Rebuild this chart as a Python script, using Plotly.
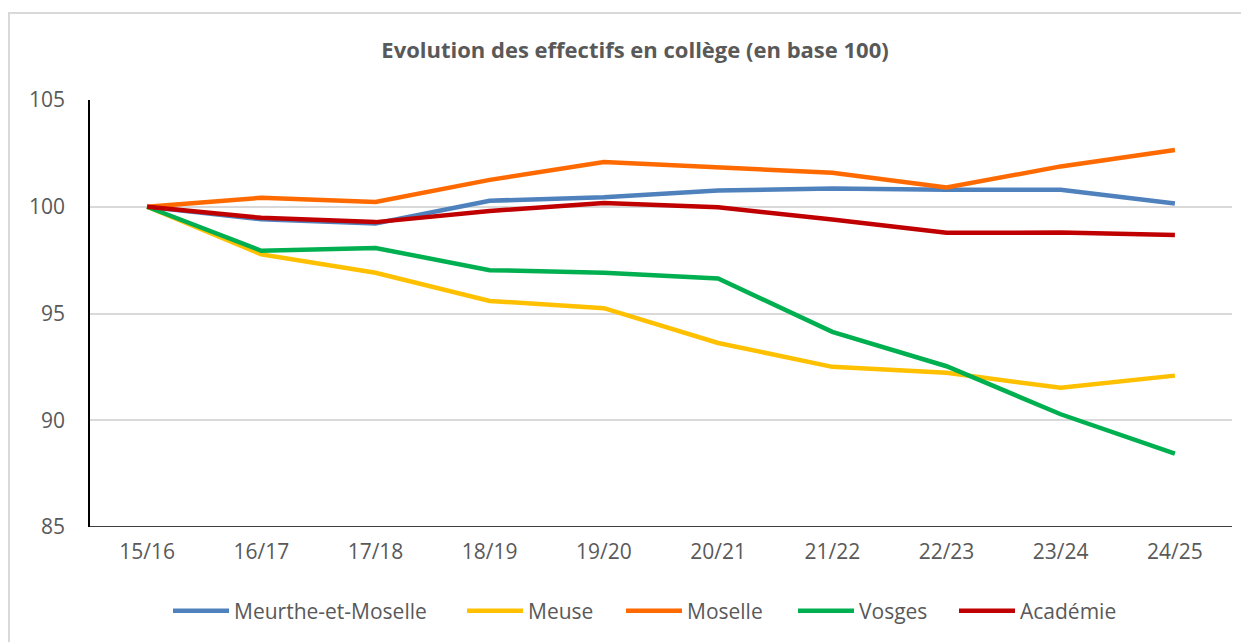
import plotly.graph_objects as go

years = ["15/16", "16/17", "17/18", "18/19", "19/20", "20/21", "21/22", "22/23", "23/24", "24/25"]
meurthe = [100, 99.41, 99.22, 100.28, 100.45, 100.76, 100.86, 100.80, 100.80, 100.15]
meuse = [100, 97.77, 96.91, 95.59, 95.25, 93.62, 92.50, 92.22, 91.52, 92.09]
moselle = [100, 100.42, 100.22, 101.26, 102.10, 101.87, 101.59, 100.90, 101.89, 102.66]
vosges = [100, 97.94, 98.07, 97.03, 96.91, 96.64, 94.14, 92.53, 90.28, 88.44]
academie = [100, 99.48, 99.28, 99.80, 100.18, 99.98, 99.40, 98.78, 98.79, 98.68]

series = [
    ("Meurthe-et-Moselle", meurthe, "#4F81BD"),
    ("Meuse", meuse, "#FFC000"),
    ("Moselle", moselle, "#FF6A00"),
    ("Vosges", vosges, "#00B050"),
    ("Académie", academie, "#C00000"),
]

font_family = "Open Sans, Liberation Sans, sans-serif"

# page body adds an 8px offset; figure is sized/margined to compensate
W, H = 1241, 634
L, R, T, B = 82, 17, 92, 115
PW = W - L - R
PH = H - T - B

# left edge (page px) of each legend entry, as laid out in the reference
legend_px = [174, 468, 627, 799, 960]
legend_ids = ["legend", "legend2", "legend3", "legend4", "legend5"]

fig = go.Figure()
for (name, vals, col), lid in zip(series, legend_ids):
    fig.add_trace(go.Scatter(
        x=years, y=vals, name=name, mode="lines",
        line=dict(color=col, width=4.5), legend=lid,
    ))

legend_common = dict(
    orientation="h", xanchor="left", y=(519 - 603) / PH, yanchor="middle",
    font=dict(family=font_family, size=21, color="#595959"),
    itemwidth=56, bgcolor="rgba(0,0,0,0)",
)
legends = {}
for lid, px in zip(legend_ids, legend_px):
    legends[lid] = dict(x=(px - 8 - 6 - L) / PW, **legend_common)

fig.update_layout(
    width=W, height=H,
    paper_bgcolor="white", plot_bgcolor="white",
    margin=dict(l=L, r=R, t=T, b=B, autoexpand=False),
    title=dict(
        text="<b>Evolution des effectifs en collège (en base 100)</b>",
        x=627 / W, xanchor="center", y=1 - 42 / H, yanchor="middle",
        font=dict(family=font_family, size=22, color="#595959"),
    ),
    font=dict(family=font_family, size=21, color="#595959"),
    xaxis=dict(
        type="category", range=[-0.5, 9.5],
        showgrid=False, showline=False, zeroline=False,
        ticks="", ticklabelstandoff=10,
        tickfont=dict(size=21, color="#595959"),
    ),
    yaxis=dict(
        range=[85, 105], tickvals=[85, 90, 95, 100, 105],
        showgrid=True, gridcolor="#d9d9d9", gridwidth=1.5,
        showline=True, linecolor="black", linewidth=1.5,
        zeroline=False, ticks="", ticklabelstandoff=19,
        tickfont=dict(size=21, color="#595959"),
    ),
    showlegend=True,
    **legends,
)

# bottom axis line at 85
fig.add_shape(type="line", xref="paper", yref="y", x0=0, x1=1, y0=85, y1=85,
              line=dict(color="black", width=1.5), layer="above")
# outer chart border (right and bottom fall outside the picture)
fig.add_shape(type="rect", xref="paper", yref="paper",
              x0=(1 - L) / PW, x1=(1300 - L) / PW,
              y0=(519 - 700) / PH, y1=(519 - 5) / PH,
              line=dict(color="#d9d9d9", width=2), layer="below")

fig.write_html("out.html")
